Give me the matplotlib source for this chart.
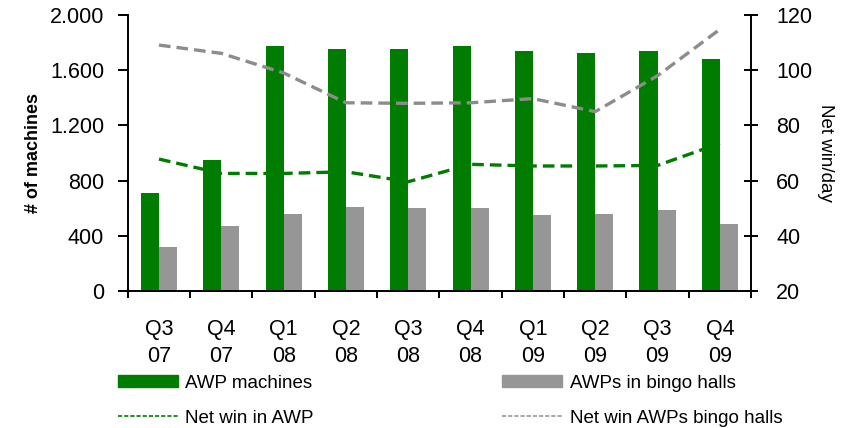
import numpy as np
import matplotlib
matplotlib.use('Agg')
from matplotlib import pyplot as plt
from matplotlib.patches import Patch
from matplotlib.lines import Line2D

plt.rcParams['font.family'] = ['Liberation Sans', 'DejaVu Sans']

quarters = ['Q3\n07', 'Q4\n07', 'Q1\n08', 'Q2\n08', 'Q3\n08', 'Q4\n08', 'Q1\n09', 'Q2\n09', 'Q3\n09', 'Q4\n09']
awp_machines = [710, 950, 1775, 1755, 1755, 1775, 1740, 1725, 1740, 1680]
awp_bingo = [320, 470, 558, 608, 600, 600, 550, 558, 587, 486]
netwin_awp = [67.8, 62.6, 62.6, 63.2, 59.6, 65.9, 65.3, 65.3, 65.5, 73.5]
netwin_bingo = [109.1, 106.1, 99.0, 88.2, 88.0, 88.2, 89.7, 85.0, 98.0, 114.8]

green = '#007d00'
grey = '#969696'

fig = plt.figure(figsize=(8.41, 4.28), dpi=100)
ax = fig.add_axes([0.152, 0.320, 0.741, 0.645])
x = np.arange(len(quarters))
w = 0.29
ax.bar(x - w / 2, awp_machines, w, color=green, zorder=2)
ax.bar(x + w / 2, awp_bingo, w, color=grey, zorder=2)
ax.set_xlim(-0.5, len(quarters) - 0.5)
ax.set_ylim(0, 2000)
ax.set_yticks(range(0, 2001, 400))
ax.set_yticklabels(['0', '400', '800', '1.200', '1.600', '2.000'], fontsize=15.5)
ax.set_xticks(x)
ax.set_xticklabels(quarters, fontsize=15.5, linespacing=1.4)
ax.set_xticks(np.arange(-0.5, len(quarters)), minor=True)
ax.tick_params(axis='x', which='major', length=0, pad=20)
ax.tick_params(axis='x', which='minor', length=5, width=1.4, direction='out')
ax.tick_params(axis='y', length=7, width=1.4, direction='out', pad=10)
ax.set_ylabel('# of machines', fontsize=13, fontweight='bold', labelpad=6)
for s in ['top', 'right']:
    ax.spines[s].set_visible(False)
for s in ['left', 'bottom']:
    ax.spines[s].set_linewidth(1.4)

ax2 = ax.twinx()
ax2.plot(x, netwin_awp, color=green, lw=2.4, ls=(0, (3.5, 1.8)))
ax2.plot(x, netwin_bingo, color='#8c8c8c', lw=2.4, ls=(0, (3.5, 1.8)))
ax2.set_ylim(20, 120)
ax2.set_yticks(range(20, 121, 20))
ax2.tick_params(axis='y', length=10, width=1.4, direction='inout', labelsize=15.5, pad=13)
ax2.set_ylabel('Net win/day', fontsize=13.5, rotation=270, labelpad=16)
for s in ['top', 'left', 'bottom']:
    ax2.spines[s].set_visible(False)
ax2.spines['right'].set_linewidth(1.4)

dash = (0, (2.5, 1.2))
leg_kw = dict(loc='upper left', frameon=False, fontsize=13.5, handlelength=3.2, handleheight=0.62,
              labelspacing=0.95, handletextpad=0.4, borderpad=0, borderaxespad=0)
fig.legend([Patch(color=green), Line2D([], [], color=green, lw=1.2, ls=dash)],
           ['AWP machines', 'Net win in AWP'], bbox_to_anchor=(0.140, 0.124), **leg_kw)
fig.legend([Patch(color=grey), Line2D([], [], color=grey, lw=1.2, ls=dash)],
           ['AWPs in bingo halls', 'Net win AWPs bingo halls'], bbox_to_anchor=(0.597, 0.124), **leg_kw)

fig.savefig('out.png', dpi=100)
